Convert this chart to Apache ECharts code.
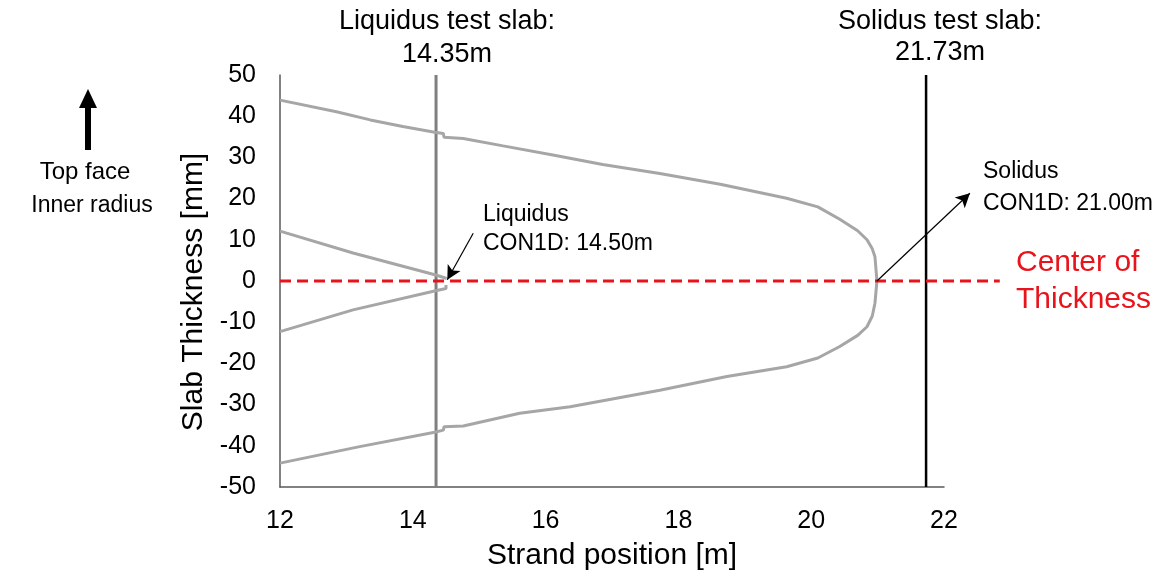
<!DOCTYPE html>
<html>
<head>
<meta charset="utf-8">
<script src="https://cdn.jsdelivr.net/npm/echarts@6/dist/echarts.min.js"></script>
<style>html,body{margin:0;padding:0;background:#fff;}#c{width:1166px;height:580px;}</style>
</head>
<body>
<div id="c"></div>
<script>
// ---- data ----
const xTicks = [12, 14, 16, 18, 20, 22];
const yTicks = [-50, -40, -30, -20, -10, 0, 10, 20, 30, 40, 50];
// solidus shell (upper face)
const solidusTop = [[12.0,43.9],[12.85,41.1],[13.36,39.1],[13.85,37.5],[14.33,36.1],[14.46,35.8],[14.47,34.9],[14.76,34.6],[15.36,32.8],[16.11,30.6],[16.86,28.3],[17.72,26.1],[18.63,23.5],[19.63,20.1],[20.1,18.0],[20.43,15.0],[20.7,12.2],[20.84,10.0],[20.92,7.8],[20.96,5.9],[20.99,0.0]];
// solidus shell (lower face)
const solidusBottom = [[12.0,-44.2],[13.2,-40.2],[14.33,-36.7],[14.46,-36.2],[14.47,-35.4],[14.76,-35.2],[15.61,-32.1],[16.37,-30.5],[17.72,-26.5],[18.73,-23.2],[19.63,-20.8],[20.1,-18.7],[20.43,-15.9],[20.7,-13.2],[20.84,-11.1],[20.92,-8.5],[20.96,-5.4],[20.99,0.0]];
// liquidus front
const liquidusTop = [[12.0,12.1],[13.1,6.8],[14.36,1.4],[14.51,0.6]];
const liquidusBottom = [[12.0,-12.3],[13.1,-7.0],[14.36,-2.3],[14.5,-1.8],[14.5,-1.0]];
// test slab positions
const liquidusSlab = 14.35;
const solidusSlab = 21.73;
const centerLine = [[12, 0], [22.84, 0]];
// annotation arrows [tail, head]
const liquidusArrow = [[14.91, 11.6], [14.52, 0.3]];
const solidusArrow = [[20.99, 0.0], [22.39, 21.3]];
// extended (overhang) x range used for marks reaching past the plot frame
const xOverhangMax = 23;

const FONT = '"Liberation Sans", Arial, sans-serif';
const chart = echarts.init(document.getElementById('c'), null, {renderer: 'canvas'});

// main plot frame; second grid shares the same scale but reaches 1 unit further right
const gLeft = 280, gRight = 222, gTop = 75, gBottom = 93;
const plotW = 1166 - gLeft - gRight;
const pxPerUnit = plotW / (xTicks[xTicks.length - 1] - xTicks[0]);
const g2Right = 1166 - gLeft - pxPerUnit * (xOverhangMax - xTicks[0]);

const shellStyle = {color: '#a6a6a6', width: 3};
function shell(data) {
  return {type: 'line', data: data, showSymbol: false, symbol: 'none', smooth: false,
          lineStyle: shellStyle, itemStyle: {color: '#a6a6a6'}, z: 3, silent: true};
}
function arrow(pts, axisIdx) {
  return {type: 'line', data: [], clip: false, silent: true, xAxisIndex: axisIdx, yAxisIndex: axisIdx,
    markLine: {silent: true, symbol: ['none', 'arrow'], symbolSize: [11, 14], label: {show: false},
      lineStyle: {color: '#000', width: 1.2, type: 'solid'},
      data: [[{coord: pts[0]}, {coord: pts[1]}]]}};
}
const hiddenAxis = {show: false};

chart.setOption({
  animation: false,
  backgroundColor: '#fff',
  grid: [
    {left: gLeft, right: gRight, top: gTop, bottom: gBottom},
    {left: gLeft, right: g2Right, top: gTop, bottom: gBottom}
  ],
  xAxis: [{
    type: 'value', gridIndex: 0, min: xTicks[0], max: xTicks[xTicks.length - 1], interval: 2,
    name: 'Strand position [m]', nameLocation: 'middle', nameGap: 54,
    nameTextStyle: {fontFamily: FONT, fontSize: 30, color: '#000'},
    axisLine: {show: true, onZero: false, lineStyle: {color: '#595959', width: 1.5}},
    axisTick: {show: false}, splitLine: {show: false},
    axisLabel: {fontFamily: FONT, fontSize: 25, color: '#000', margin: 22}
  }, {
    type: 'value', gridIndex: 1, min: xTicks[0], max: xOverhangMax, show: false, splitLine: {show: false}
  }],
  yAxis: [{
    type: 'value', gridIndex: 0, min: yTicks[0], max: yTicks[yTicks.length - 1], interval: 10,
    name: 'Slab Thickness [mm]', nameLocation: 'middle', nameGap: 70, nameRotate: 90,
    nameTextStyle: {fontFamily: FONT, fontSize: 30, color: '#000', padding: [0, 22, 0, 0]},
    axisLine: {show: true, onZero: false, lineStyle: {color: '#595959', width: 1.5}},
    axisTick: {show: false}, splitLine: {show: false},
    axisLabel: {fontFamily: FONT, fontSize: 25, color: '#000', margin: 24}
  }, {
    type: 'value', gridIndex: 1, min: yTicks[0], max: yTicks[yTicks.length - 1], show: false, splitLine: {show: false}
  }],
  series: [
    shell(solidusTop), shell(solidusBottom), shell(liquidusTop), shell(liquidusBottom),
    {type: 'line', data: [[liquidusSlab, yTicks[0]], [liquidusSlab, yTicks[yTicks.length - 1]]], symbol: 'none',
     lineStyle: {color: '#7f7f7f', width: 3}, z: 2, silent: true},
    {type: 'line', data: [[solidusSlab, yTicks[0]], [solidusSlab, yTicks[yTicks.length - 1]]], symbol: 'none',
     lineStyle: {color: '#000', width: 2.5}, z: 2, silent: true},
    {type: 'line', data: centerLine, symbol: 'none', xAxisIndex: 1, yAxisIndex: 1,
     lineStyle: {color: '#e8141b', width: 3, type: [11, 6]}, z: 4, silent: true},
    arrow(liquidusArrow, 0), arrow(solidusArrow, 1)
  ],
  graphic: [
    {type: 'text', x: 447, y: 22, style: {text: 'Liquidus test slab:', font: '27px ' + FONT, fill: '#000', align: 'center', verticalAlign: 'middle'}},
    {type: 'text', x: 447, y: 55, style: {text: '14.35m', font: '27px ' + FONT, fill: '#000', align: 'center', verticalAlign: 'middle'}},
    {type: 'text', x: 940, y: 22, style: {text: 'Solidus test slab:', font: '27px ' + FONT, fill: '#000', align: 'center', verticalAlign: 'middle'}},
    {type: 'text', x: 940, y: 53, style: {text: '21.73m', font: '27px ' + FONT, fill: '#000', align: 'center', verticalAlign: 'middle'}},
    {type: 'text', x: 483, y: 215, style: {text: 'Liquidus', font: '23px ' + FONT, fill: '#000', align: 'left', verticalAlign: 'middle'}},
    {type: 'text', x: 483, y: 244, style: {text: 'CON1D: 14.50m', font: '23px ' + FONT, fill: '#000', align: 'left', verticalAlign: 'middle'}},
    {type: 'text', x: 983, y: 172, style: {text: 'Solidus', font: '23px ' + FONT, fill: '#000', align: 'left', verticalAlign: 'middle'}},
    {type: 'text', x: 983, y: 204, style: {text: 'CON1D: 21.00m', font: '23px ' + FONT, fill: '#000', align: 'left', verticalAlign: 'middle'}},
    {type: 'text', x: 1016, y: 263, style: {text: 'Center of', font: '30px ' + FONT, fill: '#e8141b', align: 'left', verticalAlign: 'middle'}},
    {type: 'text', x: 1016, y: 300, style: {text: 'Thickness', font: '30px ' + FONT, fill: '#e8141b', align: 'left', verticalAlign: 'middle'}},
    {type: 'text', x: 85, y: 172, style: {text: 'Top face', font: '24px ' + FONT, fill: '#000', align: 'center', verticalAlign: 'middle'}},
    {type: 'text', x: 92, y: 206, style: {text: 'Inner radius', font: '23px ' + FONT, fill: '#000', align: 'center', verticalAlign: 'middle'}},
    {type: 'rect', shape: {x: 85, y: 106, width: 6, height: 44}, style: {fill: '#000'}},
    {type: 'polygon', shape: {points: [[88, 89], [79, 108], [97, 108]]}, style: {fill: '#000'}}
  ]
});
</script>
</body>
</html>
